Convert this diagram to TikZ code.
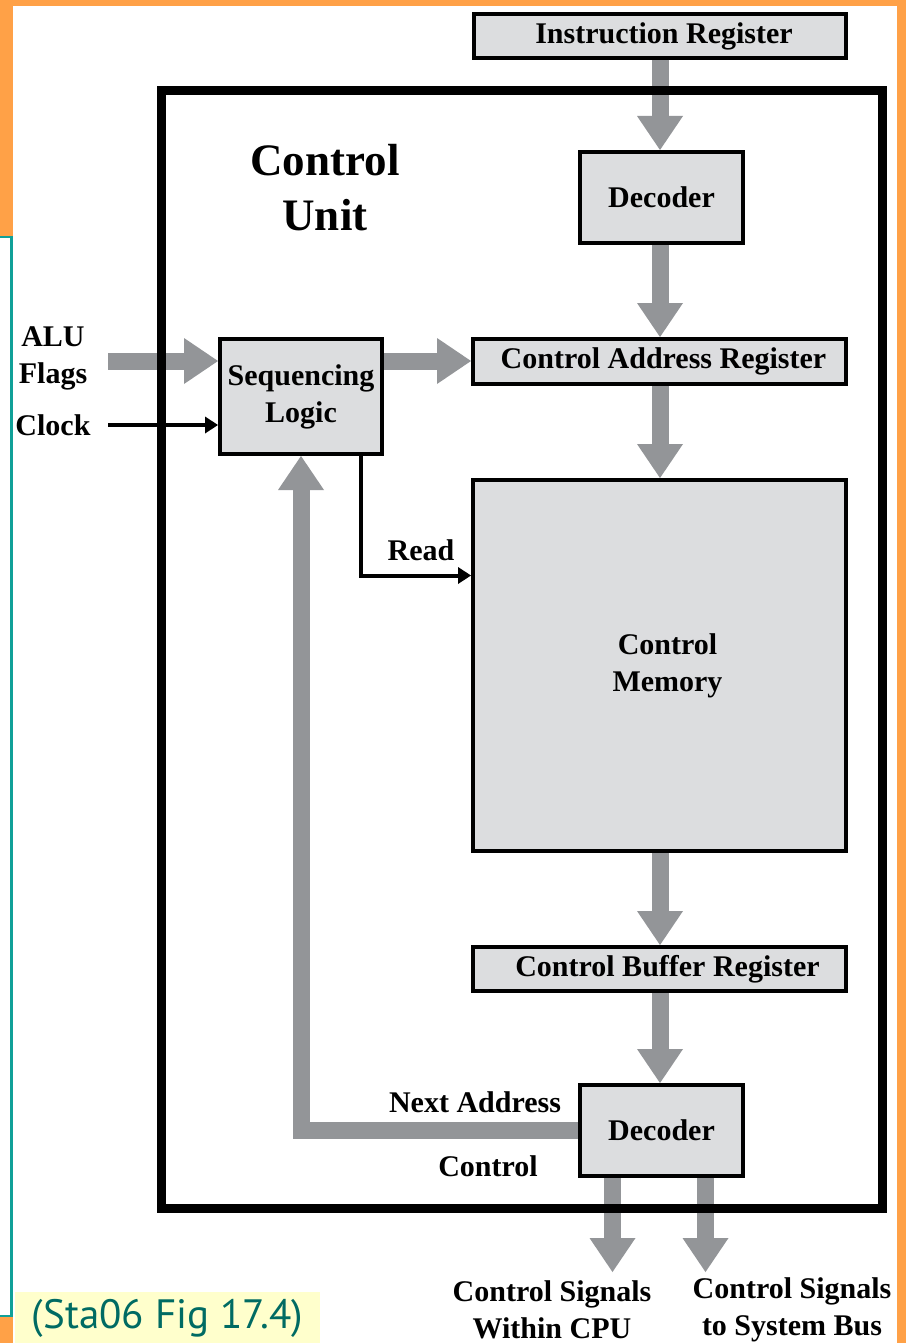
\documentclass[tikz,border=0pt]{standalone}
\usepackage{fontspec}
\setmainfont{Liberation Serif}
\newfontfamily\notefont{PT Sans}
\usetikzlibrary{arrows.meta}
\definecolor{slideorange}{RGB}{255,161,71}
\definecolor{slideteal}{RGB}{16,160,152}
\definecolor{noteteal}{RGB}{0,107,99}
\definecolor{notebg}{RGB}{255,255,204}
\definecolor{boxgray}{RGB}{220,221,223}
\definecolor{flowgray}{RGB}{147,149,152}

\tikzset{
    unitbox/.style={draw=black, fill=boxgray, line width=4pt, inner sep=0pt,
        align=center, font=\fontsize{30}{37}\selectfont\bfseries},
    lbl/.style={inner sep=0pt, align=center, font=\fontsize{30}{37}\selectfont\bfseries},
    flow/.style={draw=flowgray, line width=17pt,
        -{Triangle[length=34pt, width=46pt, line width=0pt]}},
    sig/.style={draw=black, line width=4pt,
        -{Triangle[length=13pt, width=17pt, line width=0pt]}}
}

\begin{document}
\begin{tikzpicture}[x=1pt, y=-1pt]
    \useasboundingbox (0,0) rectangle (906,1343);
    \fill[slideorange] (0,0) rectangle (906,1343);
    \fill[white] (13,6) rectangle (897,1343);
    \fill[white] (0,238) rectangle (13,1316);
    \draw[slideteal, line width=2.5pt] (0,237) -- (11.5,237) -- (11.5,1316) -- (0,1316);
    \node[fill=notebg, text=noteteal, inner sep=0pt, minimum width=305pt, minimum height=52pt,
        font=\notefont\fontsize{41}{44}\selectfont] (note) at (167.5,1318) {(Sta06 Fig 17.4)};

    \node[unitbox, minimum width=372pt, minimum height=44pt] (ir) at (660,36) {\hspace*{8pt}Instruction Register};
    \node[unitbox, minimum width=163pt, minimum height=91pt] (dec1) at (661.5,197.5) {Decoder};
    \node[unitbox, minimum width=373pt, minimum height=45pt] (car) at (659.5,361.5) {\hspace*{8pt}Control Address Register};
    \node[unitbox, minimum width=373pt, minimum height=371pt] (cm) at (659.5,665.5) {\hspace*{16pt}Control\\\hspace*{16pt}Memory};
    \node[unitbox, minimum width=373pt, minimum height=44pt] (cbr) at (659.5,969) {\hspace*{16pt}Control Buffer Register};
    \node[unitbox, minimum width=163pt, minimum height=91pt] (dec2) at (661.5,1130.5) {Decoder};
    \node[unitbox, minimum width=162pt, minimum height=115pt] (seq) at (301,396.5) {Sequencing\\Logic};

    \node[lbl, font=\fontsize{45}{55}\selectfont\bfseries] (title) at (325,188) {Control\\Unit};
    \node[lbl] (alu) at (53,358) {ALU\\Flags};
    \node[lbl] (clock) at (53,425) {Clock};
    \node[lbl] (read) at (421,550) {Read};
    \node[lbl] (next) at (475,1102) {Next Address};
    \node[lbl] (ctrl) at (488,1166) {Control};
    \node[lbl] (within) at (552,1310) {Control Signals\\Within CPU};
    \node[lbl] (sysbus) at (792,1310) {Control Signals\\to System Bus};

    \coordinate (aluin) at (108,361);
    \coordinate (clkin) at (108,425);
    \coordinate (out1) at (612.5,1272);
    \coordinate (out2) at (705.5,1272);

    \draw[flow] (ir.south) -- (ir.south |- dec1.north);
    \draw[flow] (dec1.south -| ir.south) -- (ir.south |- car.north);
    \draw[flow] (car.south -| ir.south) -- (ir.south |- cm.north);
    \draw[flow] (cm.south -| ir.south) -- (ir.south |- cbr.north);
    \draw[flow] (cbr.south -| ir.south) -- (ir.south |- dec2.north);
    \draw[flow] (dec2.south -| out1) -- (out1);
    \draw[flow] (dec2.south -| out2) -- (out2);
    \draw[flow] (aluin) -- (aluin -| seq.west);
    \draw[flow] (seq.east |- aluin) -- (car.west |- aluin);
    \draw[flow] (dec2.west) -| (seq.south);
    \draw[sig] (clkin) -- (clkin -| seq.west);
    \draw[sig] ([xshift=-23pt]seq.south east) |- ([yshift=90pt]cm.west);

    \draw[line width=9pt] (161,91) rectangle (882,1208);
\end{tikzpicture}
\end{document}
